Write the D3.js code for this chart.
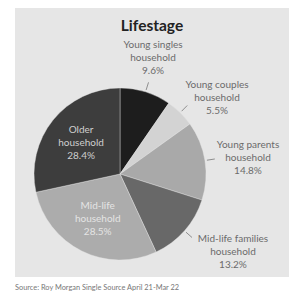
<!DOCTYPE html>
<html lang="en">
<head>
<meta charset="UTF-8">
<title>Lifestage</title>
<script src="https://d3js.org/d3.v7.min.js"></script>
<style>
    body { margin: 0; background: #fff; }
    svg { display: block; font-family: Lato, "Open Sans", sans-serif; }
</style>
</head>
<body>
<svg id="chart" width="300" height="300"></svg>
<script>
    // Data
    const categories = ["Young singles household", "Young couples household", "Young parents household",
        "Mid-life families household", "Mid-life household", "Older household"];
    const labelLines = [
        ["Young singles", "household"],
        ["Young couples", "household"],
        ["Young parents", "household"],
        ["Mid-life families", "household"],
        ["Mid-life", "household"],
        ["Older", "household"]
    ];
    const values = [9.6, 5.5, 14.8, 13.2, 28.5, 28.4];
    const sliceColors = ["#1d1d1d", "#d3d3d3", "#a9a9a9", "#686868", "#acacac", "#3d3d3d"];

    // label placement: inside labels sit on the arc centroid, outside ones get a leader line
    const labelPlace = [
        { inside: false, dx: 33, dy: -117 },
        { inside: false, dx: 97, dy: -77 },
        { inside: false, dx: 128, dy: -17 },
        { inside: false, dx: 113, dy: 77 },
        { inside: true },
        { inside: true }
    ];

    const svg = d3.select("#chart");
    const cx = 120, cy = 174, r = 86;

    svg.append("rect")
        .attr("x", 15).attr("y", 8)
        .attr("width", 274).attr("height", 269)
        .attr("fill", "#e6e6e6");

    svg.append("text")
        .attr("x", 152).attr("y", 31)
        .attr("text-anchor", "middle")
        .attr("font-size", 15.5)
        .attr("font-weight", "bold")
        .attr("fill", "#222")
        .text("Lifestage");

    const pie = d3.pie().sort(null).value(d => d)(values);
    const arc = d3.arc().innerRadius(0).outerRadius(r);
    const g = svg.append("g").attr("transform", `translate(${cx},${cy})`);

    g.selectAll("path")
        .data(pie)
        .enter().append("path")
        .attr("d", arc)
        .attr("fill", (d, i) => sliceColors[i])
        .attr("stroke", "#e6e6e6")
        .attr("stroke-width", 0.4);

    const lineH = 13;
    pie.forEach((d, i) => {
        const place = labelPlace[i];
        const mid = (d.startAngle + d.endAngle) / 2;
        const lines = labelLines[i].concat([values[i].toFixed(1) + "%"]);
        let x, y, color;
        if (place.inside) {
            const c = d3.arc().innerRadius(50).outerRadius(50).centroid(d);
            x = c[0]; y = c[1];
            color = i === 5 ? "#cfcfcf" : "#e4e4e4";
        } else {
            x = place.dx; y = place.dy;
            color = "#6b6b6b";
            const p1 = [Math.sin(mid) * (r + 2), -Math.cos(mid) * (r + 2)];
            const p2 = [Math.sin(mid) * (r + 10), -Math.cos(mid) * (r + 10)];
            g.append("line")
                .attr("x1", p1[0]).attr("y1", p1[1])
                .attr("x2", p2[0]).attr("y2", p2[1])
                .attr("stroke", "#777")
                .attr("stroke-width", 0.8);
        }
        const t = g.append("text")
            .attr("text-anchor", "middle")
            .attr("font-size", 10)
            .attr("fill", color);
        lines.forEach((s, k) => {
            t.append("tspan")
                .attr("x", x)
                .attr("y", y + (k - 1) * lineH + 3.5)
                .text(s);
        });
    });

    svg.append("text")
        .attr("x", 15).attr("y", 290)
        .attr("font-size", 7.4)
        .attr("fill", "#777")
        .text("Source: Roy Morgan Single Source April 21-Mar 22");
</script>
</body>
</html>
